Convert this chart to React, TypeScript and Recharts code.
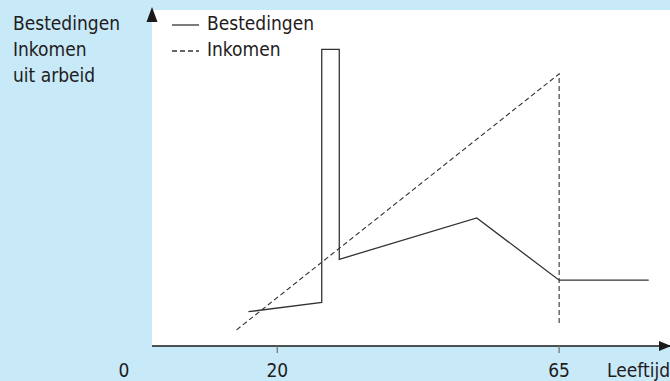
import React from 'react';
import { LineChart, Line, XAxis, YAxis, CartesianGrid, Legend, ReferenceDot, Label } from 'recharts';

// Data (age in years, value in arbitrary units 0-100)
const bestedingenAge = [15.4, 27.1, 27.1, 29.9, 29.9, 51.85, 65, 79.3];
const bestedingenValue = [10.2, 13.0, 88.3, 88.3, 25.8, 38.1, 19.6, 19.6];
const inkomenAge = [13.5, 65, 65];
const inkomenValue = [4.8, 81, 6.5];
const xTicks = [0, 20, 65];
const seriesNames = ['Bestedingen', 'Inkomen'];
const yTitleLines = ['Bestedingen', 'Inkomen', 'uit arbeid'];
const xTitle = 'Leeftijd';
const xMax = 82.7;
const yMax = 100;

const bestedingenData = bestedingenAge.map((age, i) => ({ age, value: bestedingenValue[i] }));
const inkomenData = inkomenAge.map((age, i) => ({ age, value: inkomenValue[i] }));

const FONT = '"DejaVu Sans Condensed", "Liberation Sans Narrow", "DejaVu Sans", sans-serif';
const FS = 19;
const TEXT = '#1f1c1d';
const LINE = '#333333';
const BG = '#c8e9f8';

const XTick = (props: any) => {
  const { x, y, payload } = props;
  const v = payload.value;
  if (v === 0) {
    return (
      <text x={x - 28} y={y + 31} textAnchor="middle" fontFamily={FONT} fontSize={FS} fill={TEXT}>
        {v}
      </text>
    );
  }
  return (
    <g>
      <line x1={x} x2={x} y1={y} y2={y + 7} stroke="#777" strokeWidth={1.3} />
      <text x={x} y={y + 31} textAnchor="middle" fontFamily={FONT} fontSize={FS} fill={TEXT}>
        {v}
      </text>
    </g>
  );
};

const LegendContent = (props: any) => {
  const payload = props.payload || [];
  return (
    <div style={{ fontFamily: FONT, fontSize: FS, color: TEXT }}>
      {payload.map((entry: any, i: number) => (
        <div key={i} style={{ display: 'flex', alignItems: 'flex-start', height: 26, lineHeight: '26px' }}>
          <svg width={35} height={26} style={{ display: 'block' }}>
            <line
              x1={0}
              x2={27}
              y1={15}
              y2={15}
              stroke={LINE}
              strokeWidth={1.3}
              strokeDasharray={entry.payload && entry.payload.strokeDasharray ? entry.payload.strokeDasharray : undefined}
            />
          </svg>
          <span>{entry.value}</span>
        </div>
      ))}
    </div>
  );
};

const YArrow = (p: any) => {
  const { cx, cy } = p;
  return <polygon points={`${cx},${cy - 3} ${cx - 5.5},${cy + 12} ${cx + 5.5},${cy + 12}`} fill="#1a1a1a" />;
};

const XArrow = (p: any) => {
  const { cx, cy } = p;
  return <polygon points={`${cx + 1},${cy} ${cx - 11},${cy - 5} ${cx - 11},${cy + 5}`} fill="#1a1a1a" />;
};

const XTitle = (props: any) => {
  const vb = props.viewBox || {};
  return (
    <text x={vb.x + vb.width} y={vb.y + 31} textAnchor="end" fontFamily={FONT} fontSize={FS} fill={TEXT}>
      {xTitle}
    </text>
  );
};

export default function App() {
  return (
    <div style={{ position: 'absolute', top: 0, left: 0, width: 670, height: 381, background: BG, overflow: 'hidden' }}>
      <div
        style={{
          position: 'absolute',
          left: 13,
          top: 10,
          fontFamily: FONT,
          fontSize: FS,
          lineHeight: '26px',
          color: TEXT,
          zIndex: 2,
        }}
      >
        {yTitleLines.map((t, i) => (
          <div key={i}>{t}</div>
        ))}
      </div>
      <LineChart width={670} height={381} margin={{ top: 10, right: 0, left: 152, bottom: 0 }}>
        <CartesianGrid fill="#ffffff" horizontal={false} vertical={false} />
        <XAxis
          type="number"
          dataKey="age"
          domain={[0, xMax]}
          allowDataOverflow
          ticks={xTicks}
          tick={<XTick />}
          tickLine={false}
          tickSize={0}
          tickMargin={0}
          height={35}
          axisLine={{ stroke: '#1a1a1a', strokeWidth: 1.5 }}
          interval={0}
        >
          <Label content={<XTitle />} />
        </XAxis>
        <YAxis
          type="number"
          dataKey="value"
          domain={[0, yMax]}
          allowDataOverflow
          width={0}
          tick={false}
          tickLine={false}
          axisLine={{ stroke: '#1a1a1a', strokeWidth: 1.5 }}
        />
        <Legend
          layout="horizontal"
          verticalAlign="middle"
          align="center"
          content={<LegendContent />}
          wrapperStyle={{ top: 10, left: 172, width: 'auto', height: 'auto' }}
        />
        <Line
          data={bestedingenData}
          dataKey="value"
          name={seriesNames[0]}
          type="linear"
          stroke={LINE}
          strokeWidth={1.3}
          dot={false}
          activeDot={false}
          isAnimationActive={false}
        />
        <Line
          data={inkomenData}
          dataKey="value"
          name={seriesNames[1]}
          type="linear"
          stroke={LINE}
          strokeWidth={1.1}
          strokeDasharray="5 3"
          dot={false}
          activeDot={false}
          isAnimationActive={false}
        />
        <ReferenceDot x={0} y={yMax} r={0} ifOverflow="visible" shape={<YArrow />} />
        <ReferenceDot x={xMax} y={0} r={0} ifOverflow="visible" shape={<XArrow />} />
      </LineChart>
    </div>
  );
}
